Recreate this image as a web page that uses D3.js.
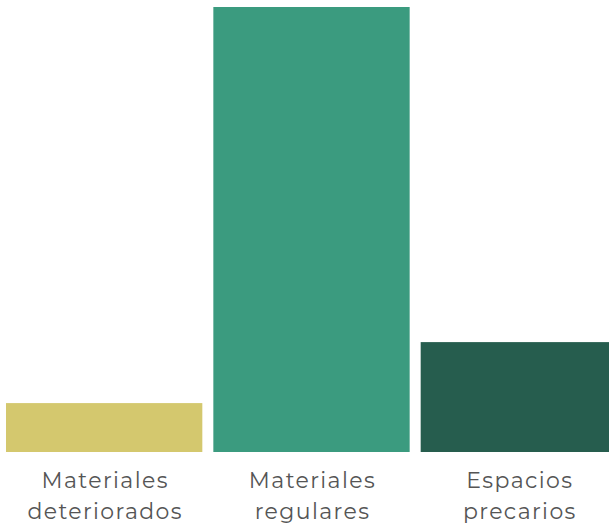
<!DOCTYPE html>
<html><head><meta charset="utf-8">
<script src="https://cdn.jsdelivr.net/npm/d3@7"></script>
<style>html,body{margin:0;padding:0;background:#fff;overflow:hidden}</style>
</head><body>
<script>
const categories = [["Materiales","deteriorados"],["Materiales","regulares"],["Espacios","precarios"]];
const values = [8.1, 73.7, 18.2];
const colors = ["#d4c86e", "#3b9b7f", "#265d4e"];

const W = 609, H = 529;
const svg = d3.select("body").append("svg").attr("width", W).attr("height", H);
const idx = d3.range(values.length);
const x = d3.scaleBand().domain(idx).range([6, 617]).paddingInner(11/207).paddingOuter(0);
const y = d3.scaleLinear().domain([0, d3.max(values)]).range([452, 7]);

svg.selectAll("rect").data(idx).join("rect")
  .attr("x", i => x(i)).attr("width", x.bandwidth())
  .attr("y", i => y(values[i])).attr("height", i => y(0) - y(values[i]))
  .attr("fill", i => colors[i]);

const t = svg.selectAll("text.lab").data(idx).join("text")
  .attr("class","lab")
  .attr("text-anchor","middle")
  .attr("font-family","Montserrat, 'Open Sans', sans-serif")
  .attr("font-size", 22)
  .attr("letter-spacing", 1.4)
  .attr("fill", "#555");
t.each(function(i){
  const cx = x(i) + x.bandwidth()/2 + 1;
  categories[i].forEach((line, k) => {
    d3.select(this).append("tspan").attr("x", cx).attr("y", 488 + k*31).text(line);
  });
});
</script>
</body></html>
